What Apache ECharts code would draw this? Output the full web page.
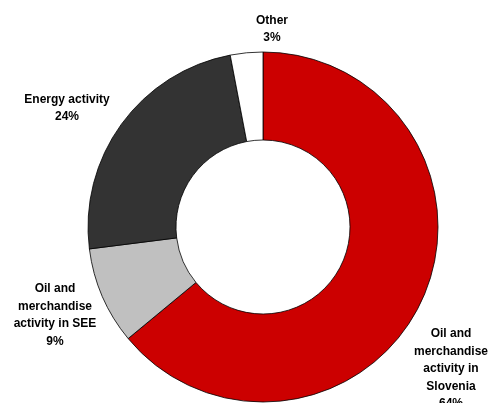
<!DOCTYPE html>
<html>
<head>
<meta charset="utf-8">
<script src="https://cdn.jsdelivr.net/npm/echarts@6/dist/echarts.min.js"></script>
<style>html,body{margin:0;padding:0;background:#fff;}#c{width:498px;height:403px;}</style>
</head>
<body>
<div id="c"></div>
<script>
var categories = ['Oil and\nmerchandise\nactivity in\nSlovenia', 'Oil and\nmerchandise\nactivity in SEE', 'Energy activity', 'Other'];
var values = [64, 9, 24, 3];
var colors = ['#cc0000', '#c0c0c0', '#333333', '#ffffff'];
// label anchor points (center of text block)
var labelPos = [[451, 369], [55, 315], [67, 108], [272, 29]];

var chart = echarts.init(document.getElementById('c'), null, {renderer: 'canvas'});
chart.setOption({
  animation: false,
  series: [{
    type: 'pie',
    center: [263, 227],
    radius: [87, 175],
    startAngle: 90,
    clockwise: true,
    avoidLabelOverlap: false,
    data: categories.map(function (c, i) {
      return {name: c, value: values[i], itemStyle: {color: colors[i]}};
    }),
    itemStyle: {borderColor: '#000', borderWidth: 0.8},
    label: {
      show: true,
      position: 'outside',
      formatter: function (p) { return p.name + '\n' + p.value + '%'; },
      fontFamily: 'Liberation Sans, Arial, sans-serif',
      fontWeight: 'bold',
      fontSize: 12,
      lineHeight: 17.5,
      color: '#000',
      align: 'center'
    },
    labelLine: {show: false},
    labelLayout: function (p) {
      var pos = labelPos[p.dataIndex];
      return {x: pos[0], y: pos[1], align: 'center', verticalAlign: 'middle'};
    },
    emphasis: {disabled: true}
  }]
});
</script>
</body>
</html>
